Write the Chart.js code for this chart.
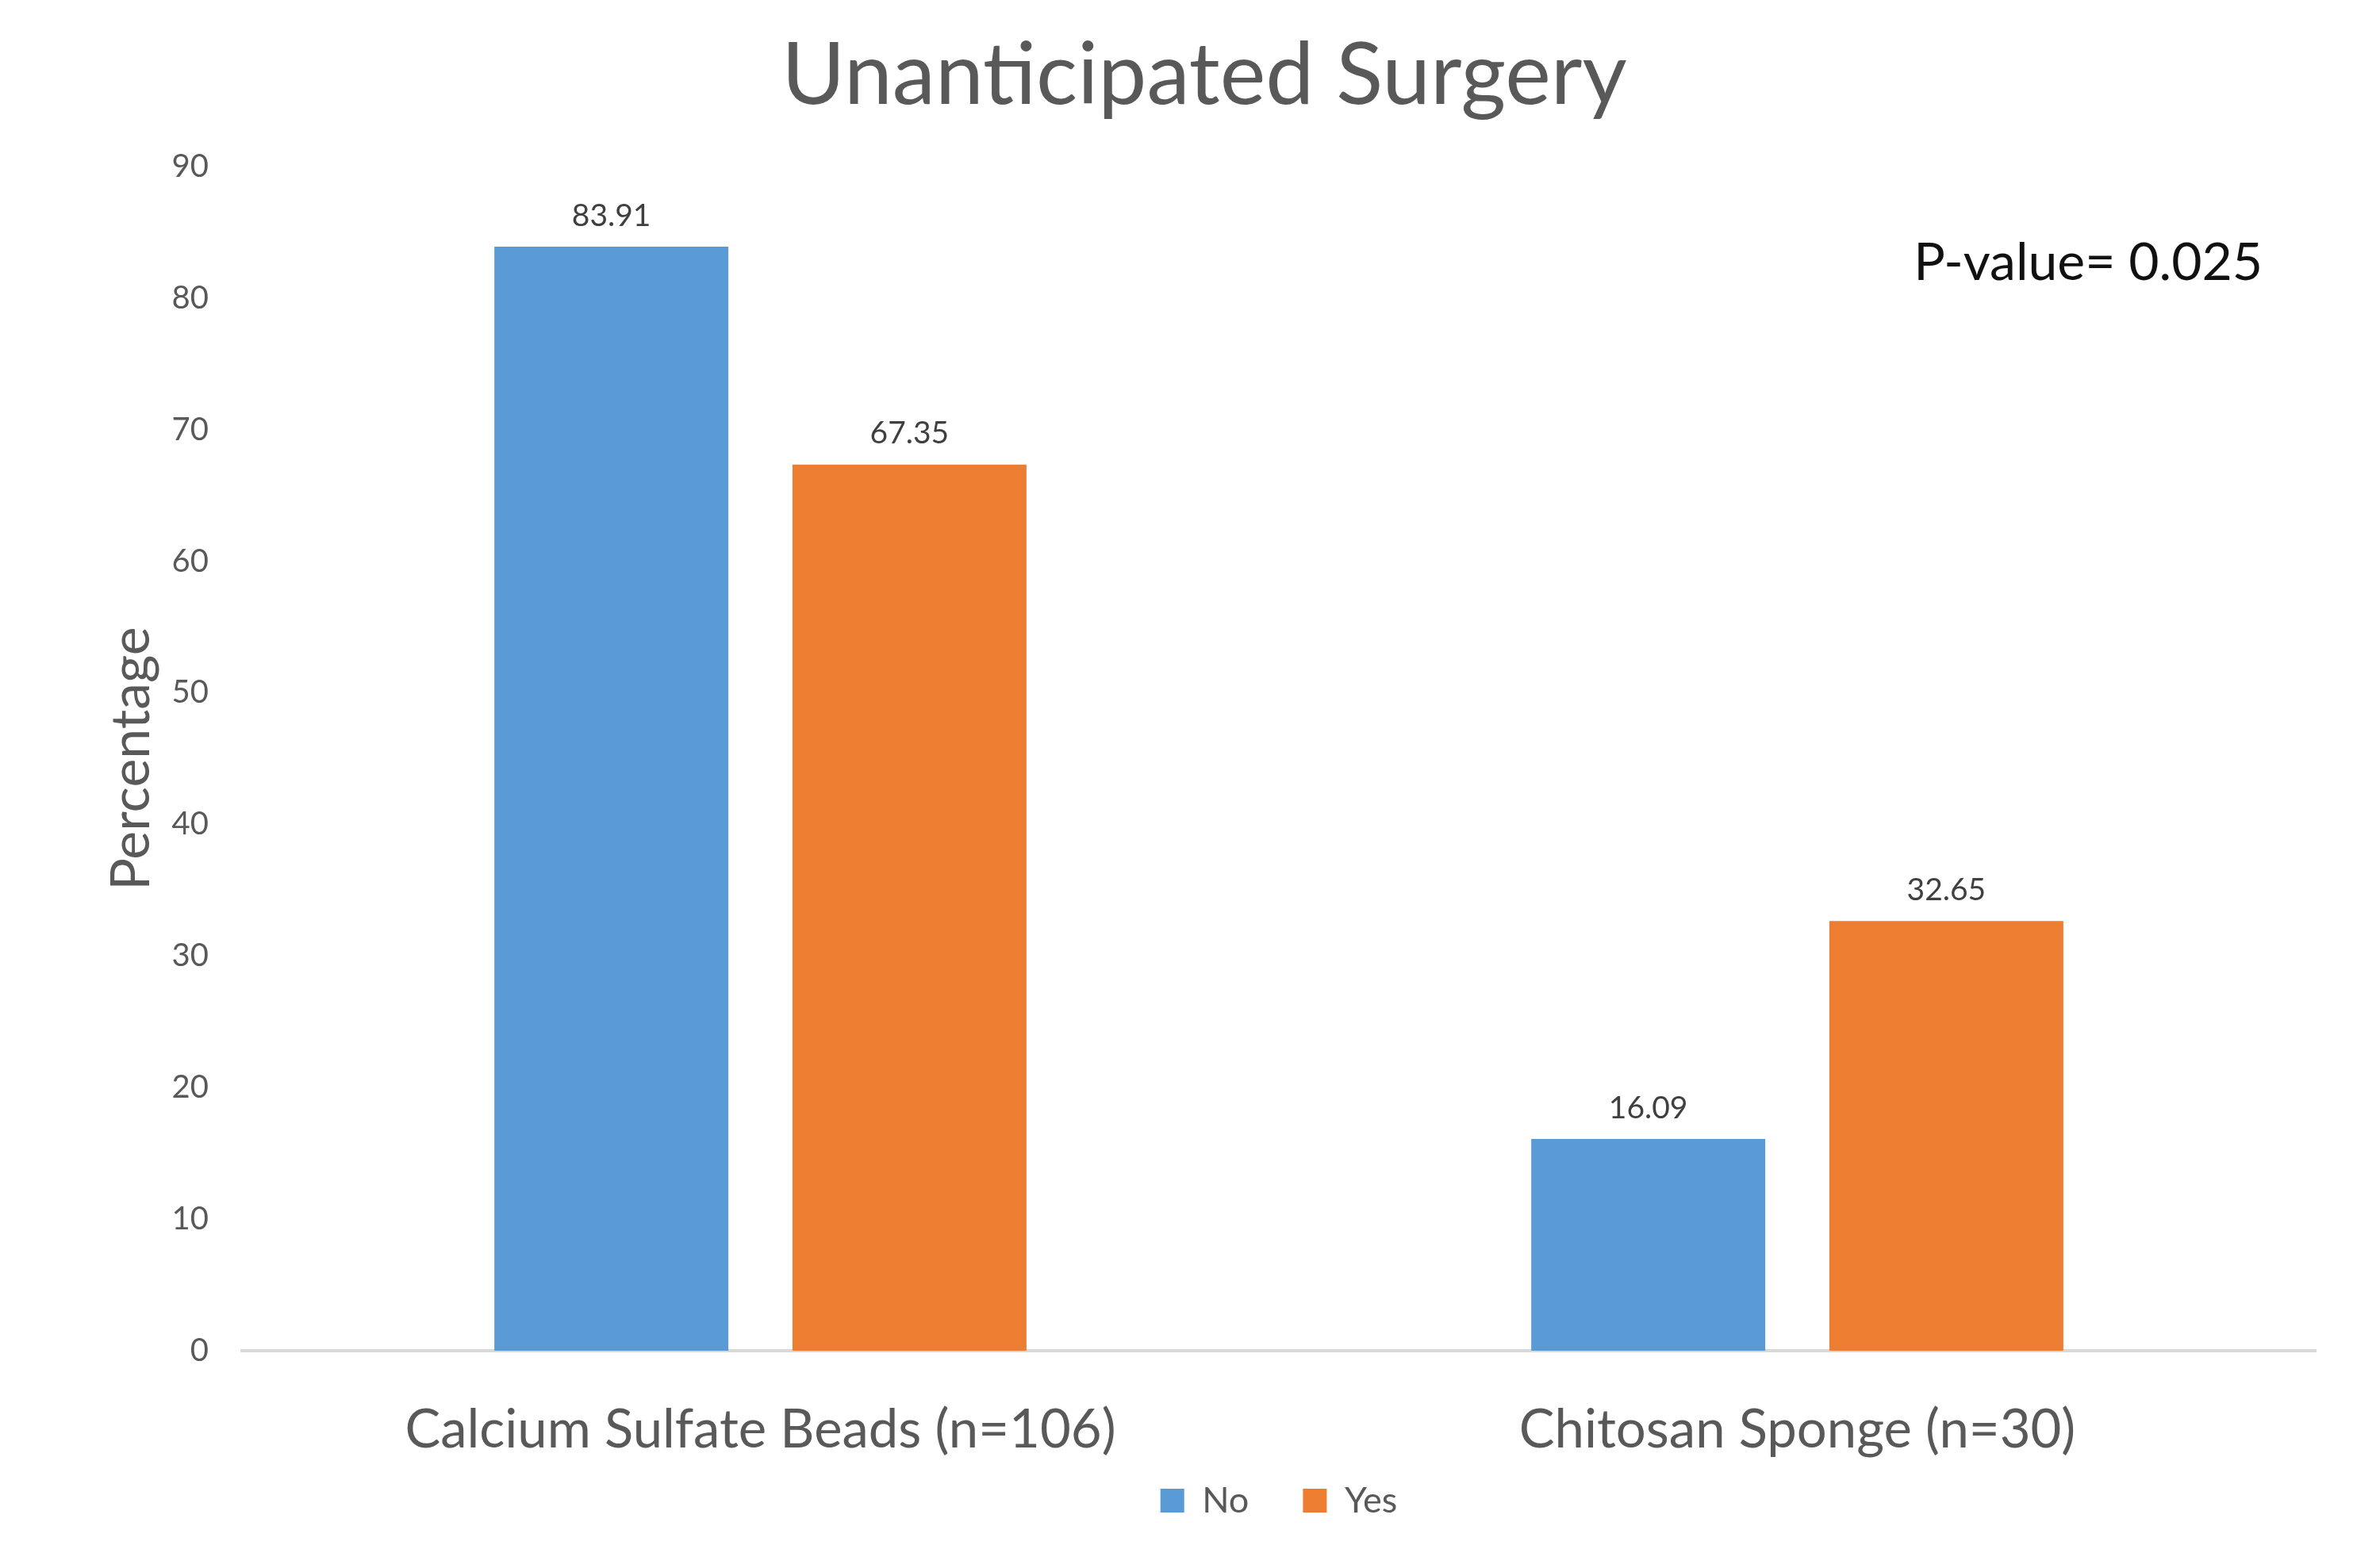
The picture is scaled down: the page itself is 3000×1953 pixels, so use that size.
<!DOCTYPE html>
<html>
<head>
<meta charset="utf-8">
<style>
  html, body { margin: 0; padding: 0; background: #ffffff; }
  #wrap { width: 3000px; height: 1953px; }
</style>
<script src="https://cdn.jsdelivr.net/npm/chart.js@4.4.1/dist/chart.umd.min.js"></script>
</head>
<body>
<div id="wrap"><canvas id="c" width="3000" height="1953"></canvas></div>
<script>
const categories = ['Calcium Sulfate Beads (n=106)', 'Chitosan Sponge (n=30)'];
const seriesNames = ['No', 'Yes'];
const noValues = [83.91, 16.09];
const yesValues = [67.35, 32.65];
const seriesColors = ['#5B9BD5', '#ED7D31'];
const yTicks = [0, 10, 20, 30, 40, 50, 60, 70, 80, 90];
const chartTitle = 'Unanticipated Surgery';
const yAxisTitle = 'Percentage';
const pValueText = 'P-value= 0.025';

const FONT = 'Lato, "Open Sans", sans-serif';

const valueLabels = {
  id: 'valueLabels',
  afterDatasetsDraw(chart) {
    const ctx = chart.ctx;
    ctx.save();
    ctx.font = '39px ' + FONT;
    ctx.fillStyle = '#404040';
    ctx.textAlign = 'center';
    ctx.textBaseline = 'middle';
    chart.data.datasets.forEach((ds, di) => {
      const meta = chart.getDatasetMeta(di);
      meta.data.forEach((el, i) => {
        ctx.fillText(ds.data[i].toFixed(2), el.x, el.y - 39);
      });
    });
    ctx.restore();
  }
};

const pValueNote = {
  id: 'pValueNote',
  afterDraw(chart) {
    const ctx = chart.ctx;
    const a = chart.chartArea;
    ctx.save();
    ctx.font = '66px ' + FONT;
    ctx.fillStyle = '#111111';
    ctx.textAlign = 'right';
    ctx.textBaseline = 'middle';
    ctx.fillText(pValueText, a.right - 67, a.top + 122);
    ctx.restore();
  }
};

new Chart(document.getElementById('c'), {
  type: 'bar',
  data: {
    labels: categories,
    datasets: [
      { label: seriesNames[0], data: noValues, backgroundColor: seriesColors[0], borderWidth: 0 },
      { label: seriesNames[1], data: yesValues, backgroundColor: seriesColors[1], borderWidth: 0 }
    ]
  },
  options: {
    responsive: false,
    devicePixelRatio: 1,
    animation: false,
    categoryPercentage: 0.575,
    barPercentage: 0.785,
    layout: { padding: { left: 117, right: 81, top: 0, bottom: 31.5 } },
    plugins: {
      title: {
        display: true,
        text: chartTitle,
        color: '#595959',
        font: { family: FONT, size: 109, weight: 'normal' },
        padding: { top: 30, bottom: 49.2 }
      },
      legend: {
        display: true,
        position: 'bottom',
        fullSize: false,
        maxHeight: 120,
        labels: {
          color: '#595959',
          font: { family: FONT, size: 45 },
          boxWidth: 30,
          boxHeight: 30,
          padding: 68
        }
      },
      tooltip: { enabled: false }
    },
    scales: {
      x: {
        grid: { display: false, drawTicks: false },
        border: { display: true, color: '#D9D9D9', width: 4 },
        ticks: {
          color: '#595959',
          font: { family: FONT, size: 67 },
          padding: 60,
          maxRotation: 0
        },
        afterFit(scale) {
          scale.height = 98.5;
          scale._computeLabelArea = () => undefined;
        }
      },
      y: {
        min: 0,
        max: 90,
        grid: { display: false, drawTicks: false },
        border: { display: false },
        afterBuildTicks(scale) { scale.ticks = yTicks.map(v => ({ value: v })); },
        ticks: {
          color: '#595959',
          font: { family: FONT, size: 40 },
          padding: 42
        },
        title: {
          display: true,
          text: yAxisTitle,
          color: '#595959',
          font: { family: FONT, size: 68 },
          padding: { top: 8, bottom: 0 }
        },
        afterFit(scale) { scale.width = 188; }
      }
    }
  },
  plugins: [valueLabels, pValueNote]
});
</script>
</body>
</html>
